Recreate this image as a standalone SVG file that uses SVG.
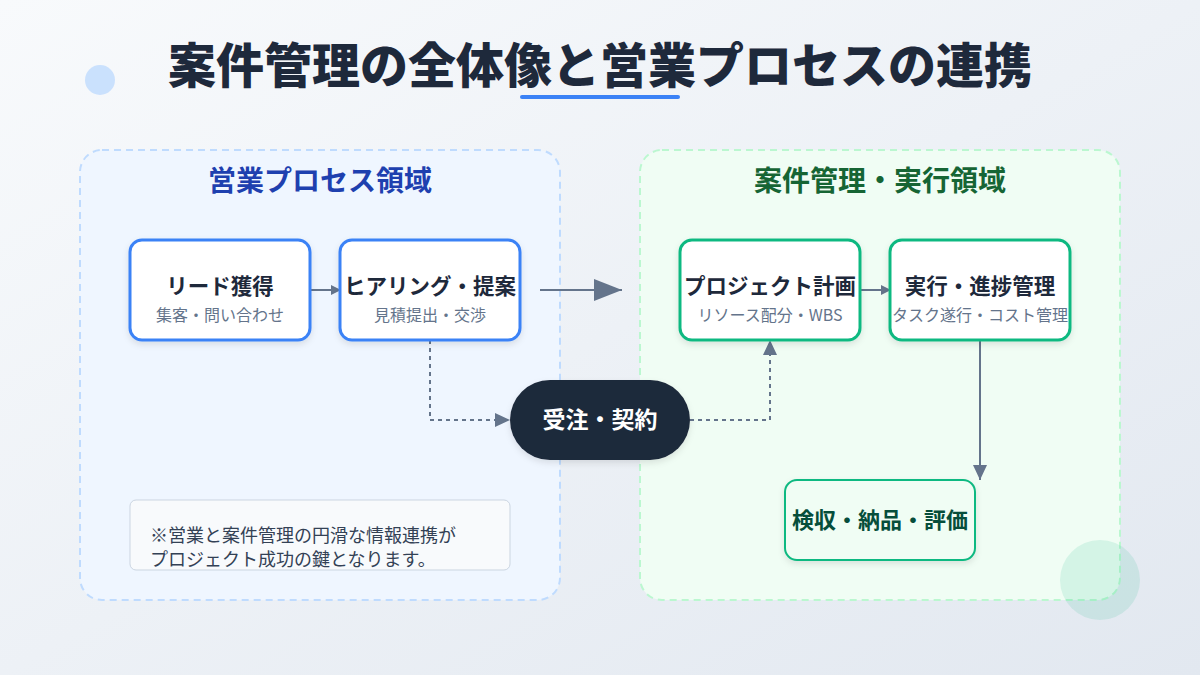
<svg xmlns="http://www.w3.org/2000/svg" width="1200" height="675" viewBox="0 0 1200 675">
<defs>
<linearGradient id="bg" x1="0" y1="0" x2="1" y2="1"><stop offset="0" stop-color="#f8fafc"/><stop offset="1" stop-color="#e2e8f0"/></linearGradient>
<marker id="ah" markerWidth="10" markerHeight="10" refX="9" refY="5" orient="auto" markerUnits="userSpaceOnUse"><path d="M0,0 L10,5 L0,10 Z" fill="#64748b"/></marker>
<marker id="ahb" markerWidth="30" markerHeight="22" refX="28" refY="11" orient="auto" markerUnits="userSpaceOnUse"><path d="M0,0 L28,11 L0,22 Z" fill="#64748b"/></marker>
<marker id="ahm" markerWidth="16" markerHeight="14" refX="15" refY="7" orient="auto" markerUnits="userSpaceOnUse"><path d="M0,0 L15,7 L0,14 Z" fill="#64748b"/></marker>
<filter id="sh" x="-10%" y="-10%" width="120%" height="130%"><feDropShadow dx="0" dy="3" stdDeviation="3" flood-color="#000" flood-opacity="0.1"/></filter>
</defs>
<style>
text{font-family:"Noto Sans CJK JP","Noto Sans",sans-serif;text-anchor:middle}
.nb{fill:#fff;stroke:#3b82f6;stroke-width:3;filter:url(#sh)}
.ng{fill:#fff;stroke:#10b981;stroke-width:3;filter:url(#sh)}
.t{font-size:21.5px;font-weight:700;fill:#1e293b}
.s{font-size:16px;fill:#64748b}
.c{stroke:#64748b;stroke-width:2;fill:none}
.d{stroke-dasharray:4 4}
</style>
<rect width="1200" height="675" fill="url(#bg)"/>
<circle cx="100" cy="80" r="15" fill="#bfdbfe" opacity="0.8"/>
<text x="600" y="83" style="font-size:48px;font-weight:900;fill:#1e293b">案件管理の全体像と営業プロセスの連携</text>
<rect x="520" y="95" width="160" height="4" rx="2" fill="#3b82f6"/>
<g id="sales-area">
<rect x="80" y="150" width="480" height="450" rx="22" fill="#eff6ff" stroke="#bfdbfe" stroke-width="2" stroke-dasharray="7 5"/>
<text x="320" y="191" style="font-size:28px;font-weight:700;fill:#1e40af">営業プロセス領域</text>
</g>
<g id="pm-area">
<rect x="640" y="150" width="480" height="450" rx="22" fill="#f0fdf4" stroke="#bbf7d0" stroke-width="2" stroke-dasharray="7 5"/>
<text x="880" y="191" style="font-size:28px;font-weight:700;fill:#166534">案件管理・実行領域</text>
</g>
<circle cx="1100" cy="580" r="40" fill="#10b981" opacity="0.12"/>
<g id="connectors">
<line class="c" x1="310" y1="290" x2="340" y2="290" marker-end="url(#ah)"/>
<line class="c" x1="540" y1="290" x2="622" y2="290" stroke-width="3" marker-end="url(#ahb)"/>
<line class="c" x1="860" y1="290" x2="890" y2="290" marker-end="url(#ah)"/>
<polyline class="c d" points="430,340 430,420 510,420" marker-end="url(#ahm)"/>
<polyline class="c d" points="690,420 770,420 770,340" marker-end="url(#ahm)"/>
<line class="c" x1="980" y1="340" x2="980" y2="480" marker-end="url(#ahm)"/>
</g>
<g id="lead"><rect class="nb" x="130" y="240" width="180" height="100" rx="12"/><text class="t" x="220" y="294">リード獲得</text><text class="s" x="220" y="321">集客・問い合わせ</text></g>
<g id="hearing"><rect class="nb" x="340" y="240" width="180" height="100" rx="12"/><text class="t" x="430" y="294">ヒアリング・提案</text><text class="s" x="430" y="321">見積提出・交渉</text></g>
<g id="plan"><rect class="ng" x="680" y="240" width="180" height="100" rx="12"/><text class="t" x="770" y="294">プロジェクト計画</text><text class="s" x="770" y="321">リソース配分・WBS</text></g>
<g id="exec"><rect class="ng" x="890" y="240" width="180" height="100" rx="12"/><text class="t" x="980" y="294">実行・進捗管理</text><text class="s" x="980" y="321">タスク遂行・コスト管理</text></g>
<g id="contract"><rect x="510" y="380" width="180" height="80" rx="40" fill="#1e293b" filter="url(#sh)"/><text x="600" y="428" style="font-size:23px;font-weight:700;fill:#fff">受注・契約</text></g>
<g id="accept"><rect x="785" y="480" width="190" height="80" rx="12" fill="#f0fdf4" stroke="#10b981" stroke-width="2" filter="url(#sh)"/><text x="880" y="528" style="font-size:22px;font-weight:700;fill:#064e3b">検収・納品・評価</text></g>
<g id="note"><rect x="130" y="500" width="380" height="70" rx="6" fill="#f8fafc" stroke="#cbd5e1" stroke-width="1"/>
<text x="150" y="542" style="font-size:18px;fill:#334155;text-anchor:start">※営業と案件管理の円滑な情報連携が</text>
<text x="150" y="566" style="font-size:18px;fill:#334155;text-anchor:start">プロジェクト成功の鍵となります。</text></g>
</svg>
